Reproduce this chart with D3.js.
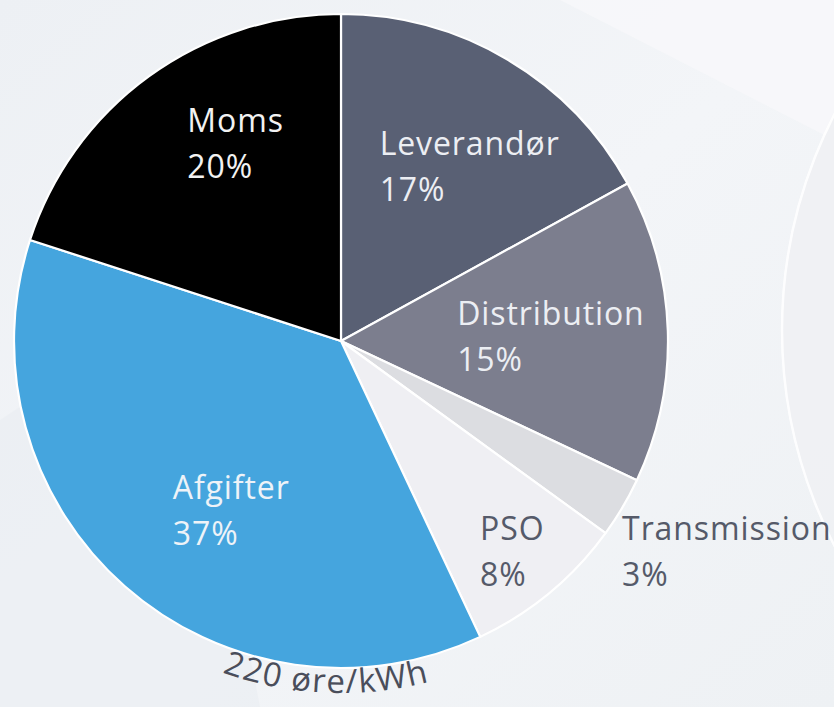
<!DOCTYPE html>
<html>
<head>
<meta charset="utf-8">
<script src="https://cdn.jsdelivr.net/npm/d3@7"></script>
<style>
  html, body { margin: 0; padding: 0; background: #f2f4f7; }
  svg { display: block; }
</style>
</head>
<body>
<svg id="chart" width="834" height="707"></svg>
<script>
// ---- data ----
const categories = ["Leverandør", "Distribution", "Transmission", "PSO", "Afgifter", "Moms"];
const shares     = [17, 15, 3, 8, 37, 20];
const colors     = ["#596074", "#7c7e8e", "#dcdde1", "#efeff3", "#45a5de", "#000000"];
const labelColors = ["#eceef3", "#eceef3", "#555a69", "#555a69", "#eef3f8", "#f2f2f2"];
const totalLabel = "220 øre/kWh";

// label placement (radius from centre, angular offset in degrees from slice mid-angle)
const labelRadius = [208, 210, 445, 280, 212, 214];
const labelShift  = [7.6, 3.7, -0.7, 1.9, -10.2, 6.5];

const W = 834, H = 707;
const cx = 341, cy = 341, R = 327;

const svg = d3.select("#chart");

// ---- background ----
const defs = svg.append("defs");
const bg = defs.append("linearGradient").attr("id", "bg").attr("x1", "0").attr("y1", "0").attr("x2", "1").attr("y2", "1");
bg.append("stop").attr("offset", "0").attr("stop-color", "#edf0f4");
bg.append("stop").attr("offset", "0.5").attr("stop-color", "#f3f5f8");
bg.append("stop").attr("offset", "1").attr("stop-color", "#eef1f4");
svg.append("rect").attr("width", W).attr("height", H).attr("fill", "url(#bg)");
// faint decorative shapes
svg.append("path").attr("d", `M0,420 L180,300 L260,707 L0,707 Z`).attr("fill", "#e9edf2").attr("opacity", 0.6);
svg.append("path").attr("d", `M560,0 L834,0 L834,140 Z`).attr("fill", "#f7f8fa").attr("opacity", 0.8);
svg.append("circle").attr("cx", 1252).attr("cy", 330).attr("r", 470)
  .attr("fill", "#f0f1f4").attr("stroke", "#ffffff").attr("stroke-width", 2.5).attr("opacity", 0.9);

// ---- pie ----
const data = categories.map((c, i) => ({ name: c, value: shares[i], i }));
const pie = d3.pie().value(d => d.value).sort(null).startAngle(0).endAngle(2 * Math.PI);
const arcs = pie(data);
const arc = d3.arc().innerRadius(0).outerRadius(R);

const g = svg.append("g").attr("transform", `translate(${cx},${cy})`);

g.selectAll("path.slice").data(arcs).join("path")
  .attr("class", "slice")
  .attr("d", arc)
  .attr("fill", d => colors[d.data.i])
  .attr("stroke", "#ffffff")
  .attr("stroke-width", 2.2)
  .attr("stroke-linejoin", "round");

// ---- labels ----
const font = "'Open Sans', 'Noto Sans', sans-serif";
arcs.forEach(d => {
  const i = d.data.i;
  const mid = (d.startAngle + d.endAngle) / 2 + labelShift[i] * Math.PI / 180;
  const r = labelRadius[i];
  const x = Math.sin(mid) * r, y = -Math.cos(mid) * r;
  const lg = g.append("g").attr("transform", `translate(${x},${y})`);
  const t1 = lg.append("text").text(d.data.name)
    .attr("font-family", font).attr("font-size", 32).attr("letter-spacing", 0.9)
    .attr("fill", labelColors[i]).attr("y", -23);
  const t2 = lg.append("text").text(d.data.value + "%")
    .attr("font-family", font).attr("font-size", 32).attr("letter-spacing", 0.9)
    .attr("fill", labelColors[i]).attr("y", 23);
  const w = Math.max(t1.node().getComputedTextLength(), t2.node().getComputedTextLength());
  t1.attr("x", -w / 2);
  t2.attr("x", -w / 2);
});

// ---- total label along arc ----
const tr = 352;
defs.append("path").attr("id", "totalArc")
  .attr("d", `M${cx - tr},${cy} A${tr},${tr} 0 0 0 ${cx + tr},${cy}`);
svg.append("text")
  .attr("font-family", font).attr("font-size", 33).attr("letter-spacing", 1.3)
  .attr("fill", "#4a4e5b")
  .append("textPath").attr("href", "#totalArc")
  .attr("startOffset", "48.6%").attr("text-anchor", "middle")
  .text(totalLabel);
</script>
</body>
</html>
